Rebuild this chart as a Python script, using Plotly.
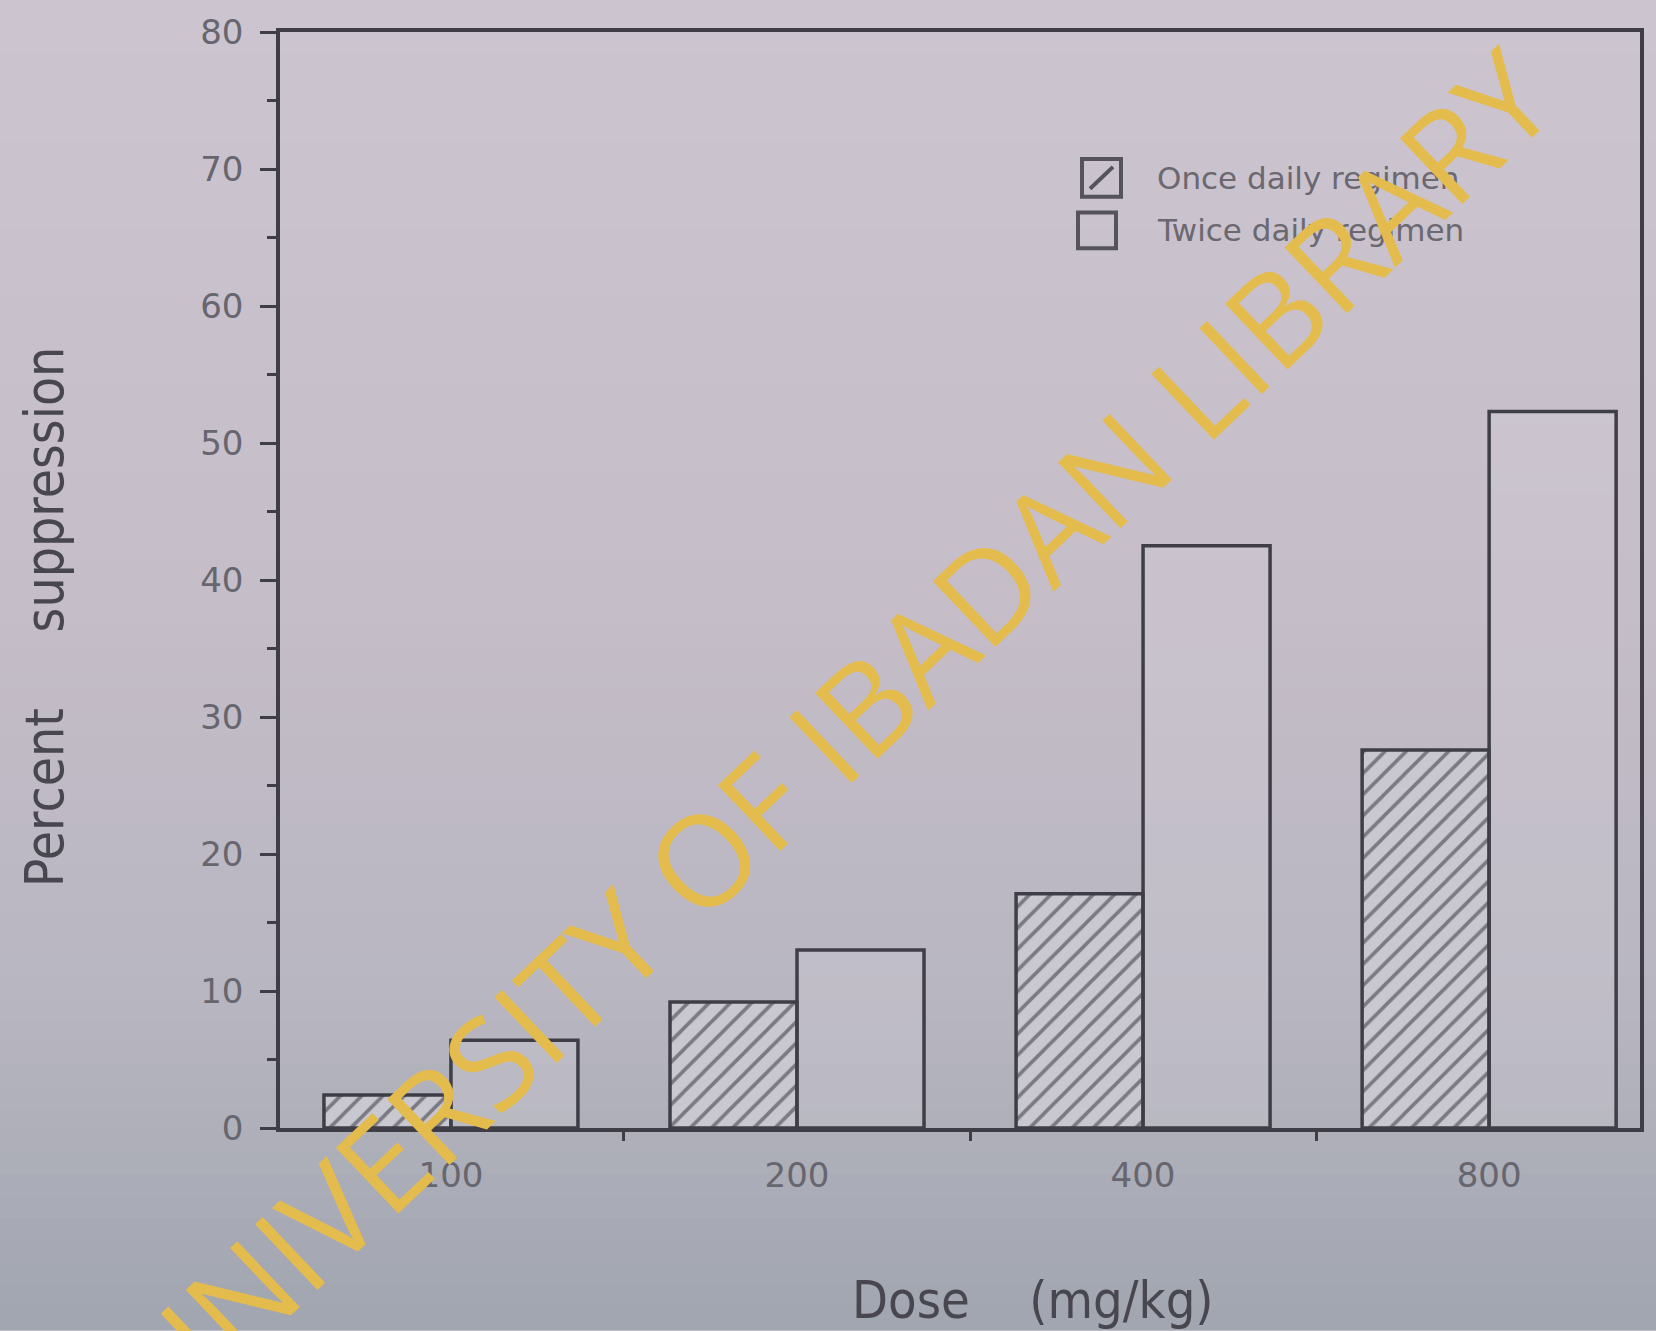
import plotly.graph_objects as go

# Dose groups and percent suppression for each regimen
doses = ["100", "200", "400", "800"]
once_daily = [2.4, 9.2, 17.1, 27.6]
twice_daily = [6.4, 13.0, 42.5, 52.3]
series_names = ["Once daily regimen", "Twice daily regimen"]
y_ticks = [0, 10, 20, 30, 40, 50, 60, 70, 80]

W, H = 1656, 1331
L, R, T, B = 280, 16, 23, 203
PW, PH = W - L - R, H - T - B

INK = "#3f3e46"
LABEL = "#67656d"
TITLE = "#48474f"


def px_x(x):
    return (x - L) / PW


def px_y(y):
    return (H - B - y) / PH


def mix(c1, c2, t):
    return "#" + "".join(f"{round(a + (b - a) * t):02x}" for a, b in zip(c1, c2))


fig = go.Figure()

fig.add_trace(go.Bar(
    x=doses, y=once_daily, name=series_names[0],
    marker=dict(
        color="#c9c8d0",
        line=dict(color=INK, width=3.5),
        pattern=dict(shape="/", fgcolor="#2c2b33", bgcolor="#c9c8d0",
                     size=15, solidity=0.24),
    ),
    showlegend=False,
))
fig.add_trace(go.Bar(
    x=doses, y=twice_daily, name=series_names[1],
    marker=dict(color="rgba(214,211,220,0.25)", line=dict(color=INK, width=3.5)),
    showlegend=False,
))

# soft paper-tone background, lighter at the top
stops = [(0.0, (204, 197, 208)), (0.45, (197, 189, 200)), (0.75, (184, 182, 193)), (1.0, (160, 165, 175))]
shapes = []
n = 60
for i in range(n):
    t = (i + 0.5) / n
    for (t0, c0), (t1, c1) in zip(stops[:-1], stops[1:]):
        if t0 <= t <= t1:
            col = mix(c0, c1, (t - t0) / (t1 - t0))
            break
    y0 = i * H / n - 1
    y1 = (i + 1) * H / n + 1
    shapes.append(dict(type="rect", xref="paper", yref="paper", layer="below",
                       x0=px_x(-2), x1=px_x(W + 2), y0=px_y(y1), y1=px_y(y0),
                       fillcolor=col, line=dict(width=0)))

# legend keys
leg_col = "#55535b"
shapes.append(dict(type="rect", xref="paper", yref="paper",
                   x0=px_x(1082), x1=px_x(1121), y0=px_y(189), y1=px_y(151),
                   line=dict(color=leg_col, width=4), fillcolor="rgba(0,0,0,0)"))
shapes.append(dict(type="line", xref="paper", yref="paper",
                   x0=px_x(1090), x1=px_x(1113), y0=px_y(181), y1=px_y(159),
                   line=dict(color=leg_col, width=4)))
shapes.append(dict(type="rect", xref="paper", yref="paper",
                   x0=px_x(1078), x1=px_x(1116), y0=px_y(241), y1=px_y(205),
                   line=dict(color=leg_col, width=4), fillcolor="rgba(0,0,0,0)"))

annotations = [
    dict(text=series_names[0], x=px_x(1155), y=px_y(170), xref="paper", yref="paper",
         xanchor="left", yanchor="middle", showarrow=False,
         font=dict(family="DejaVu Sans", size=31, color="#6b6870")),
    dict(text=series_names[1], x=px_x(1155), y=px_y(223), xref="paper", yref="paper",
         xanchor="left", yanchor="middle", showarrow=False,
         font=dict(family="DejaVu Sans", size=31, color="#6b6870")),
    dict(text="Percent\u00a0\u00a0\u00a0\u00a0\u00a0suppression", x=px_x(44), y=px_y(613),
         xref="paper", yref="paper", textangle=-90, showarrow=False,
         xanchor="center", yanchor="middle",
         font=dict(family="DejaVu Sans Condensed, DejaVu Sans", size=53, color=TITLE)),
    dict(text="Dose\u00a0\u00a0\u00a0\u00a0(mg/kg)", x=px_x(1033), y=px_y(1301),
         xref="paper", yref="paper", showarrow=False,
         xanchor="center", yanchor="middle",
         font=dict(family="DejaVu Sans Condensed, DejaVu Sans", size=52, color=TITLE)),
    dict(text="UNIVERSITY OF IBADAN LIBRARY", x=px_x(832), y=px_y(730),
         xref="paper", yref="paper", showarrow=False, textangle=-43.5,
         xanchor="center", yanchor="middle",
         font=dict(family="Open Sans", size=127, color="#e4bc4e")),
]

fig.update_layout(
    width=W, height=H,
    margin=dict(l=L, r=R, t=T, b=B, pad=0),
    paper_bgcolor="#ccc5d0",
    plot_bgcolor="rgba(0,0,0,0)",
    barmode="group",
    bargap=0.266,
    bargroupgap=0,
    shapes=shapes,
    annotations=annotations,
    showlegend=False,
)

fig.update_xaxes(
    type="category", categoryorder="array", categoryarray=doses,
    range=[-0.494, 3.436],
    showline=True, linewidth=3.5, linecolor=INK, mirror=True,
    ticks="outside", tickson="boundaries", ticklen=9, tickwidth=3, tickcolor=INK,
    tickfont=dict(family="DejaVu Sans", size=34, color=LABEL),
    ticklabelstandoff=14,
    showgrid=False, zeroline=False,
)

fig.update_yaxes(
    range=[0, 80], tickvals=y_ticks,
    showline=True, linewidth=3.5, linecolor=INK, mirror=True,
    ticks="outside", ticklen=16, tickwidth=3, tickcolor=INK,
    minor=dict(dtick=5, ticks="outside", ticklen=9, tickwidth=3, tickcolor=INK),
    tickfont=dict(family="DejaVu Sans", size=34, color=LABEL),
    ticklabelstandoff=10,
    showgrid=False, zeroline=False,
)

fig.write_html("out.html")
